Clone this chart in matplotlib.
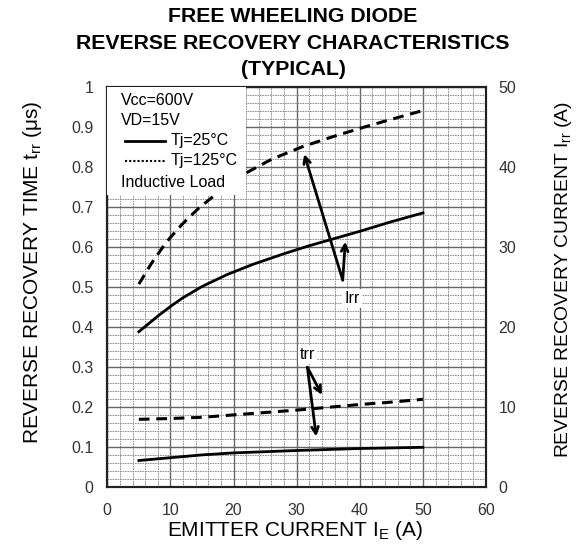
import matplotlib
matplotlib.use("Agg")
import matplotlib.pyplot as plt
from matplotlib.ticker import MultipleLocator, FixedLocator
from matplotlib.patches import Rectangle

plt.rcParams['font.family'] = ['Liberation Sans', 'DejaVu Sans']
plt.rcParams['mathtext.fontset'] = 'custom'
plt.rcParams['mathtext.rm'] = 'Liberation Sans'
plt.rcParams['mathtext.it'] = 'Liberation Sans'

# ---- data ----
irr125_x = [5, 7, 9.4, 12, 14.5, 17.3, 22, 26, 31, 36, 41, 45, 50]
irr125_y = [25.4, 28.0, 30.7, 33.0, 34.9, 36.7, 39.3, 41.0, 42.6, 43.9, 45.1, 46.0, 47.1]
irr25_x = [5, 8, 10, 12, 15, 19, 23, 28, 32, 36, 40, 45, 50]
irr25_y = [19.45, 21.4, 22.6, 23.7, 25.1, 26.6, 27.85, 29.2, 30.2, 31.1, 32.0, 33.2, 34.3]
trr125_x = [5, 10, 15, 20, 25, 30, 35, 40, 45, 50]
trr125_y = [0.170, 0.172, 0.175, 0.181, 0.187, 0.193, 0.200, 0.207, 0.213, 0.220]
trr25_x = [5, 10, 15, 20, 30, 40, 50]
trr25_y = [0.067, 0.074, 0.081, 0.086, 0.092, 0.097, 0.100]

x_ticks = [0, 10, 20, 30, 40, 50, 60]
left_ticks = [0, 0.1, 0.2, 0.3, 0.4, 0.5, 0.6, 0.7, 0.8, 0.9, 1]
left_labels = ["0", "0.1", "0.2", "0.3", "0.4", "0.5", "0.6", "0.7", "0.8", "0.9", "1"]
right_ticks = [0, 10, 20, 30, 40, 50]

fig = plt.figure(figsize=(5.85, 5.52), dpi=100)
ax = fig.add_axes([0.1834, 0.1172, 0.6474, 0.7246])
ax2 = ax.twinx()

ax.set_xlim(0, 60)
ax.set_ylim(0, 1)
ax2.set_ylim(0, 50)

ax.xaxis.set_major_locator(FixedLocator(x_ticks))
ax.xaxis.set_minor_locator(MultipleLocator(2))
ax.yaxis.set_major_locator(FixedLocator(left_ticks))
ax.set_yticklabels(left_labels)
ax.yaxis.set_minor_locator(MultipleLocator(0.02))
ax2.yaxis.set_major_locator(FixedLocator(right_ticks))

ax.grid(which='minor', color='#808080', lw=0.6, ls=(0, (2, 1)))
ax.grid(which='major', color='#666666', lw=1.0, ls='-')
ax.set_axisbelow(True)

tcol = '#333333'
ax.tick_params(which='both', length=0)
ax.tick_params(axis='y', pad=10, labelsize=11.5, labelcolor=tcol)
ax.tick_params(axis='x', pad=11, labelsize=11.5, labelcolor=tcol)
ax2.tick_params(which='both', length=0, pad=9, labelsize=11.5, labelcolor=tcol)

for a in (ax, ax2):
    for s in a.spines.values():
        s.set_linewidth(1.5)
        s.set_color('#222222')

# curves
dash = (0, (3.5, 2.2))
ax2.plot(irr125_x, irr125_y, color='black', lw=2.2, ls=dash, zorder=3)
ax2.plot(irr25_x, irr25_y, color='black', lw=2.0, ls='-', zorder=3)
ax.plot(trr125_x, trr125_y, color='black', lw=2.2, ls=dash, zorder=3)
ax.plot(trr25_x, trr25_y, color='black', lw=2.0, ls='-', zorder=3)

# legend box
ax2.add_patch(Rectangle((0, 36.55), 21.9, 13.45, facecolor='white', edgecolor='none', zorder=5))
fs = 11.5
ax2.text(2.1, 48.4, "Vcc=600V", fontsize=fs, va='center', ha='left', zorder=6)
ax2.text(2.1, 45.9, "VD=15V", fontsize=fs, va='center', ha='left', zorder=6)
ax2.plot([2.8, 9.2], [43.3, 43.3], color='black', lw=2.0, zorder=6)
ax2.text(10.0, 43.3, "Tj=25°C", fontsize=fs, va='center', ha='left', zorder=6)
ax2.plot([2.8, 9.2], [40.8, 40.8], color='black', lw=1.5, ls=(0, (1, 1)), zorder=6)
ax2.text(10.0, 40.8, "Tj=125°C", fontsize=fs, va='center', ha='left', zorder=6)
ax2.text(2.1, 38.1, "Inductive Load", fontsize=fs, va='center', ha='left', zorder=6)

# annotations
ap = dict(arrowstyle='->', color='black', lw=2.0, shrinkA=0, shrinkB=0, mutation_scale=12)
ax2.annotate("", xy=(31.2, 0.833 * 50), xytext=(37.3, 0.518 * 50), arrowprops=ap, zorder=7)
ax2.annotate("", xy=(37.7, 0.614 * 50), xytext=(37.3, 0.518 * 50), arrowprops=ap, zorder=7)
ax2.text(38.8, 0.473 * 50, "Irr", fontsize=fs, ha='center', va='center', zorder=7,
         bbox=dict(facecolor='white', edgecolor='none', pad=1.5))
ax2.annotate("", xy=(34.0, 0.231 * 50), xytext=(31.7, 0.30 * 50), arrowprops=ap, zorder=7)
ax2.annotate("", xy=(33.1, 0.127 * 50), xytext=(31.7, 0.30 * 50), arrowprops=ap, zorder=7)
ax2.text(31.7, 0.331 * 50, "trr", fontsize=fs, ha='center', va='center', zorder=7,
         bbox=dict(facecolor='white', edgecolor='none', pad=1.5))

# titles and labels
tfs = 15.3
fig.text(0.501, 1 - 17 / 552, "FREE WHEELING DIODE", fontsize=tfs, fontweight='bold', ha='center', va='center')
fig.text(0.501, 1 - 43.5 / 552, "REVERSE RECOVERY CHARACTERISTICS", fontsize=tfs, fontweight='bold', ha='center', va='center')
fig.text(0.501, 1 - 69.5 / 552, "(TYPICAL)", fontsize=tfs, fontweight='bold', ha='center', va='center')

fig.text(294.5 / 585, 1 - 530 / 552, r"EMITTER CURRENT I$_{\mathregular{E}}$ (A)", fontsize=15, ha='center', va='center')
fig.text(33 / 585, 1 - 272 / 552, r"REVERSE RECOVERY TIME t$_{\mathregular{rr}}$ (μs)", fontsize=15,
         ha='center', va='center', rotation=90)
fig.text(563 / 585, 1 - 279 / 552, r"REVERSE RECOVERY CURRENT I$_{\mathregular{rr}}$ (A)", fontsize=13.9,
         ha='center', va='center', rotation=90)

fig.savefig("out.png", dpi=100)
